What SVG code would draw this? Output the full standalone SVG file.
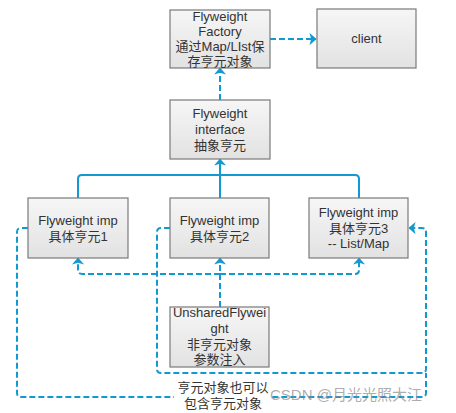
<svg xmlns="http://www.w3.org/2000/svg" width="456" height="413" viewBox="0 0 456 413">
<defs>
<linearGradient id="g" x1="0" y1="0" x2="0" y2="1"><stop offset="0" stop-color="#f6f6f6"/><stop offset="1" stop-color="#e2e2e2"/></linearGradient>
<marker id="ah" viewBox="0 0 8 14" refX="7.5" refY="7" markerWidth="7" markerHeight="13" markerUnits="userSpaceOnUse" orient="auto"><path d="M0,0 L8,7 L0,14 L2,7 z" fill="#1399d2"/></marker>
<style>
.box{fill:url(#g);stroke:#7a7a7a;stroke-width:1.2}
.t{font-family:"Liberation Sans","Noto Sans CJK SC",sans-serif;font-size:13px;fill:#333;text-anchor:middle}
.s{fill:none;stroke:#1399d2;stroke-width:2}
.d{fill:none;stroke:#1399d2;stroke-width:2;stroke-dasharray:6,3}
</style>
</defs>
<g id="connectors">
<path class="d" d="M270,39 H316" marker-end="url(#ah)"/>
<path class="d" d="M220,100 V68" marker-end="url(#ah)"/>
<path class="s" d="M78,198 V179 Q78,175 82,175 H355 Q359,175 359,179 V198"/>
<path class="s" d="M220,198 V159" marker-end="url(#ah)"/>
<path class="d" d="M220,274 H82 Q78,274 78,270 V258" marker-end="url(#ah)"/>
<path class="d" d="M220,274 H355 Q359,274 359,270 V258" marker-end="url(#ah)"/>
<path class="d" d="M220,307 V258" marker-end="url(#ah)"/>
<path class="d" d="M170,228 H161 Q157,228 157,232 V369 Q157,373 161,373 H422 Q426,373 426,369 V232 Q426,228 422,228 H409" marker-end="url(#ah)"/>
<path class="d" d="M28,228 H21 Q17,228 17,232 V393 Q17,397 21,397 H422 Q426,397 426,393 V373"/>
</g>
<g id="factory">
<rect class="box" x="170" y="10" width="100" height="58"/>
<text class="t" x="220" y="21">Flyweight</text>
<text class="t" x="220" y="36">Factory</text>
<text class="t" x="220" y="51">通过Map/LIst保</text>
<text class="t" x="220" y="66">存亨元对象</text>
</g>
<g id="client">
<rect class="box" x="317" y="9" width="99" height="59"/>
<text class="t" x="366.5" y="43">client</text>
</g>
<g id="interface">
<rect class="box" x="170" y="100" width="100" height="59"/>
<text class="t" x="220" y="118">Flyweight</text>
<text class="t" x="220" y="134">interface</text>
<text class="t" x="220" y="150">抽象亨元</text>
</g>
<g id="imp1">
<rect class="box" x="28" y="198" width="100" height="60"/>
<text class="t" x="78" y="225">Flyweight imp</text>
<text class="t" x="78" y="241">具体亨元1</text>
</g>
<g id="imp2">
<rect class="box" x="170" y="198" width="99" height="60"/>
<text class="t" x="219.5" y="225">Flyweight imp</text>
<text class="t" x="219.5" y="241">具体亨元2</text>
</g>
<g id="imp3">
<rect class="box" x="309" y="198" width="99" height="60"/>
<text class="t" x="358.5" y="217">Flyweight imp</text>
<text class="t" x="358.5" y="233">具体亨元3</text>
<text class="t" x="358.5" y="248">-- List/Map</text>
</g>
<g id="unshared">
<rect class="box" x="170" y="307" width="99" height="60"/>
<text class="t" x="219.5" y="317">UnsharedFlywei</text>
<text class="t" x="219.5" y="333">ght</text>
<text class="t" x="219.5" y="349">非亨元对象</text>
<text class="t" x="219.5" y="364">参数注入</text>
</g>
<g id="label">
<rect x="174" y="380" width="98" height="33" fill="#fff"/>
<text class="t" x="223" y="392">亨元对象也可以</text>
<text class="t" x="223" y="408">包含亨元对象</text>
</g>
<text x="270" y="400" font-family="'Liberation Sans','Noto Sans CJK SC',sans-serif" font-size="15" fill="#888" fill-opacity="0.7">CSDN @月光光照大江</text>
</svg>
